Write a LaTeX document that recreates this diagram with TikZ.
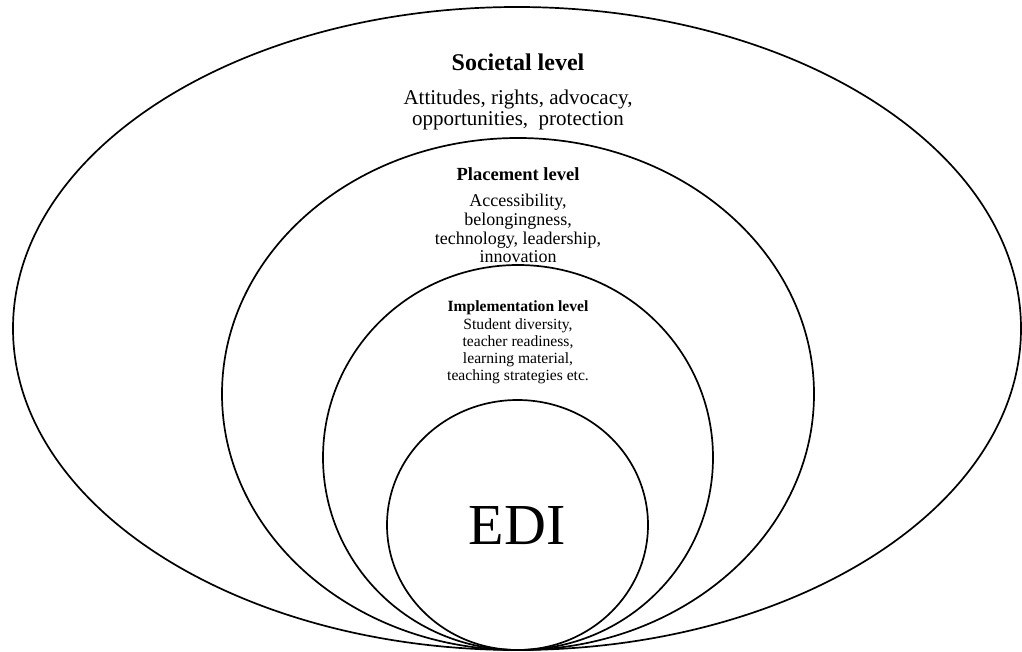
\documentclass[tikz,border=0pt]{standalone}
\usepackage{fontspec}
\setmainfont{Liberation Serif}
\usetikzlibrary{shapes.geometric}
\tikzset{
  ring/.style={draw=black, line width=1.7pt, ellipse, inner sep=0pt, minimum width=#1},
  hdr/.style={font=\bfseries\fontsize{#1}{#1}\selectfont, anchor=base, inner sep=0pt},
  body/.style={align=center, anchor=base, inner sep=0pt},
}
\begin{document}
\begin{tikzpicture}[x=1pt,y=-1pt]
\useasboundingbox (0,0) rectangle (1022,652);
% rings
\node[ring=1008pt, minimum height=643pt] (soc) at (517,328.5) {};
\node[ring=592pt, minimum height=512pt] (pla) at (518,394) {};
\node[ring=390pt, minimum height=385pt] (imp) at (518,457.5) {};
\node[ring=261pt, minimum height=250pt] (edi) at (517.5,525) {};
% texts (base anchor = baseline of the last line)
\node[hdr=24] (sochdr) at (518,71) {Societal level};
\node[body, font=\fontsize{21}{21}\selectfont] (soctxt) at (518,126) {Attitudes, rights, advocacy,\\opportunities,\ \ protection};
\node[hdr=18.5] (plahdr) at (518,180.7) {Placement level};
\node[body, font=\fontsize{18}{18.5}\selectfont] (platxt) at (518,262.5) {Accessibility,\\belongingness,\\technology, leadership,\\innovation};
\node[hdr=15.6] (imphdr) at (518,311.7) {Implementation level};
\node[body, font=\fontsize{15.6}{17}\selectfont] (imptxt) at (518,380.3) {Student diversity,\\teacher readiness,\\learning material,\\teaching strategies etc.};
\node[font=\fontsize{58}{58}\selectfont, anchor=base, inner sep=0pt] (edilbl) at (517,544) {EDI};
\end{tikzpicture}
\end{document}
